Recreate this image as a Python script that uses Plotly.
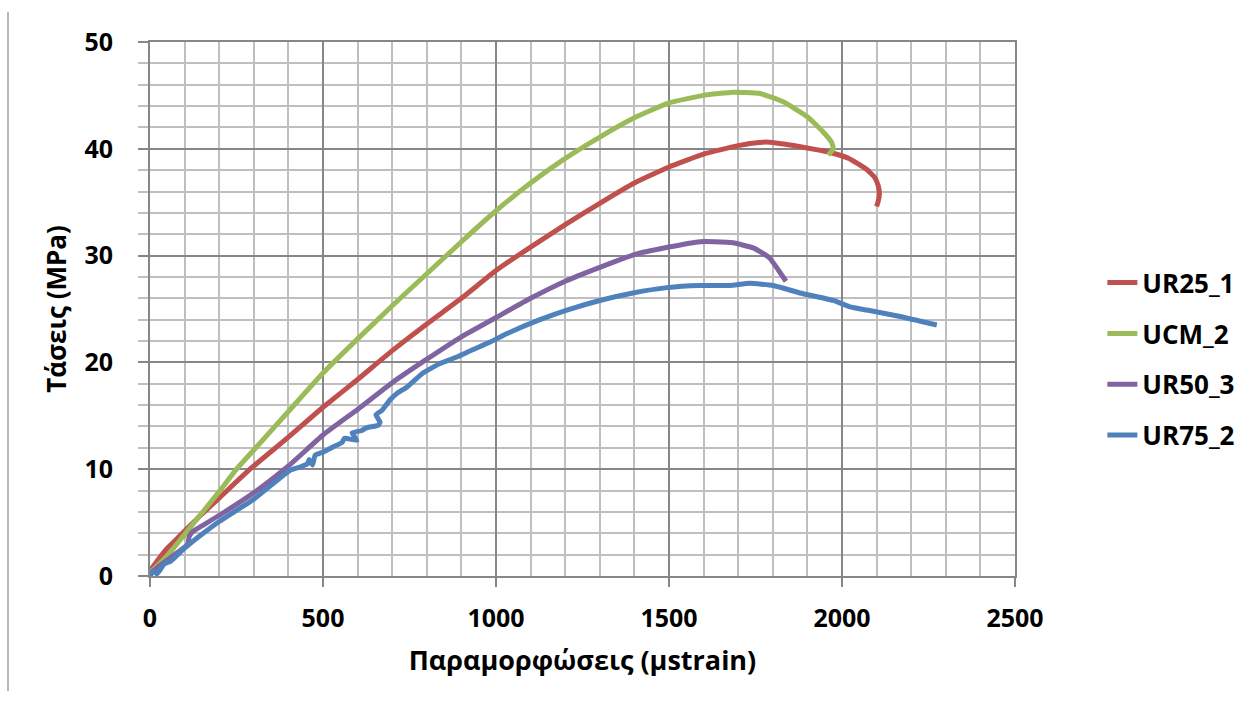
import plotly.graph_objects as go

# ---------------- data ----------------
ur25_strain = [0, 25, 50, 75, 100, 150, 200, 289, 400, 500, 600, 700, 800, 900, 1000, 1100, 1200,
               1300, 1400, 1500, 1600, 1700, 1760, 1800, 1840, 1880, 1960, 2020, 2070, 2095, 2105,
               2108, 2104, 2100]
ur25_stress = [0.5, 1.6, 2.6, 3.4, 4.2, 5.8, 7.3, 10.0, 13.0, 15.8, 18.4, 21.1, 23.6, 26.0, 28.6, 30.8,
               32.9, 34.9, 36.8, 38.3, 39.5, 40.3, 40.6, 40.6, 40.4, 40.2, 39.7, 39.1, 38.1, 37.3, 36.5,
               35.7, 35.0, 34.6]

ucm_strain = [0, 50, 100, 150, 200, 250, 300, 400, 500, 600, 700, 800, 900, 1000, 1100, 1200, 1300,
              1400, 1500, 1600, 1685, 1760, 1830, 1900, 1945, 1970, 1975, 1968, 1960]
ucm_stress = [0.3, 1.9, 3.9, 5.9, 7.9, 10.0, 11.8, 15.4, 19.0, 22.2, 25.3, 28.3, 31.3, 34.2, 36.8, 39.1,
              41.1, 42.9, 44.3, 45.0, 45.3, 45.2, 44.4, 43.0, 41.6, 40.6, 40.0, 39.7, 39.4]

ur50_strain = [0, 25, 50, 75, 100, 110, 113, 125, 150, 211, 309, 400, 500, 600, 700, 800, 900, 1000,
               1100, 1200, 1300, 1400, 1500, 1590, 1630, 1685, 1745, 1790, 1815, 1838]
ur50_stress = [0.2, 0.9, 1.5, 2.1, 2.7, 3.0, 3.7, 4.2, 4.7, 5.9, 8.0, 10.3, 13.2, 15.6, 18.1, 20.3, 22.4,
               24.2, 26.0, 27.6, 28.9, 30.1, 30.8, 31.3, 31.3, 31.2, 30.7, 29.8, 28.7, 27.6]

ur75_strain = [0, 10, 20, 30, 40, 60, 100, 150, 200, 300, 405, 434, 455, 460, 470, 477, 500, 530, 555,
               562, 598, 584, 610, 627, 659, 665, 653, 670, 694, 714, 743, 789, 838, 887, 934, 983,
               1032, 1127, 1205, 1300, 1396, 1494, 1590, 1676, 1734, 1801, 1879, 1975, 2023, 2072,
               2168, 2274]
ur75_stress = [0.0, 0.5, 0.2, 0.6, 1.1, 1.4, 2.6, 3.9, 5.1, 7.2, 9.9, 10.2, 10.5, 10.9, 10.4, 11.3, 11.6,
               12.1, 12.5, 12.9, 12.7, 13.4, 13.6, 13.9, 14.1, 14.4, 15.1, 15.5, 16.5, 17.1, 17.7, 19.0,
               19.9, 20.5, 21.2, 21.9, 22.7, 24.0, 24.9, 25.8, 26.5, 27.0, 27.2, 27.2, 27.4, 27.2, 26.5,
               25.8, 25.2, 24.9, 24.3, 23.5]

series_names = ["UR25_1", "UCM_2", "UR50_3", "UR75_2"]
series_colors = ["#C0504D", "#9BBB59", "#8064A2", "#4F81BD"]

x_ticks = [0, 500, 1000, 1500, 2000, 2500]
y_ticks = [0, 10, 20, 30, 40, 50]

x_title = "Παραμορφώσεις (μstrain)"
y_title = "Τάσεις (MPa)"

# ---------------- figure ----------------
FONT = "Open Sans"
fig = go.Figure()
data = [(ur25_strain, ur25_stress), (ucm_strain, ucm_stress),
        (ur50_strain, ur50_stress), (ur75_strain, ur75_stress)]
for (xs, ys), name, col in zip(data, series_names, series_colors):
    fig.add_trace(go.Scatter(x=xs, y=ys, mode="lines", name=name, legendgroup=name,
                             line=dict(color=col, width=5, shape="spline", smoothing=0.4)))

fig.update_layout(
    width=1253, height=703,
    margin=dict(l=150, r=238, t=42, b=127),
    paper_bgcolor="white", plot_bgcolor="white",
    font=dict(family=FONT, color="black", size=22),
    legend=dict(x=1.101, y=0.406, xanchor="left", yanchor="middle",
                font=dict(family=FONT, size=26, color="black", weight="bold"),
                tracegroupgap=14, bgcolor="rgba(0,0,0,0)"),
    showlegend=True,
)
fig.update_xaxes(
    range=[0, 2500], tickvals=x_ticks, ticktext=[str(v) for v in x_ticks],
    showgrid=True, gridcolor="#878787", gridwidth=2,
    minor=dict(dtick=100, showgrid=True, gridcolor="#BFBFBF", gridwidth=2, ticks=""),
    ticks="outside", ticklen=9, tickwidth=2, tickcolor="#878787",
    showline=True, linecolor="#878787", linewidth=2, mirror=True,
    zeroline=False,
    tickfont=dict(family=FONT, size=25, weight="bold"),
    ticklabelstandoff=10,
    title=dict(text=x_title, font=dict(family=FONT, size=27, weight="bold"), standoff=18),
)
fig.update_yaxes(
    range=[0, 50], tickvals=y_ticks, ticktext=[str(v) for v in y_ticks],
    showgrid=True, gridcolor="#878787", gridwidth=2,
    minor=dict(dtick=2, showgrid=True, gridcolor="#BFBFBF", gridwidth=2,
               ticks="outside", ticklen=10, tickwidth=2, tickcolor="#BFBFBF"),
    ticks="outside", ticklen=10, tickwidth=2, tickcolor="#878787",
    showline=True, linecolor="#878787", linewidth=2, mirror=True,
    zeroline=False,
    tickfont=dict(family=FONT, size=25, weight="bold"),
    ticklabelstandoff=20,
    title=dict(text=y_title, font=dict(family=FONT, size=26, weight="bold"), standoff=10),
)

# left page border line seen in the reference
fig.add_shape(type="line", xref="paper", yref="paper",
              x0=-142 / 865, x1=-142 / 865, y0=-115 / 534, y1=1 + 30 / 534,
              line=dict(color="#A0A0A0", width=1.5))

fig.write_html("out.html")
